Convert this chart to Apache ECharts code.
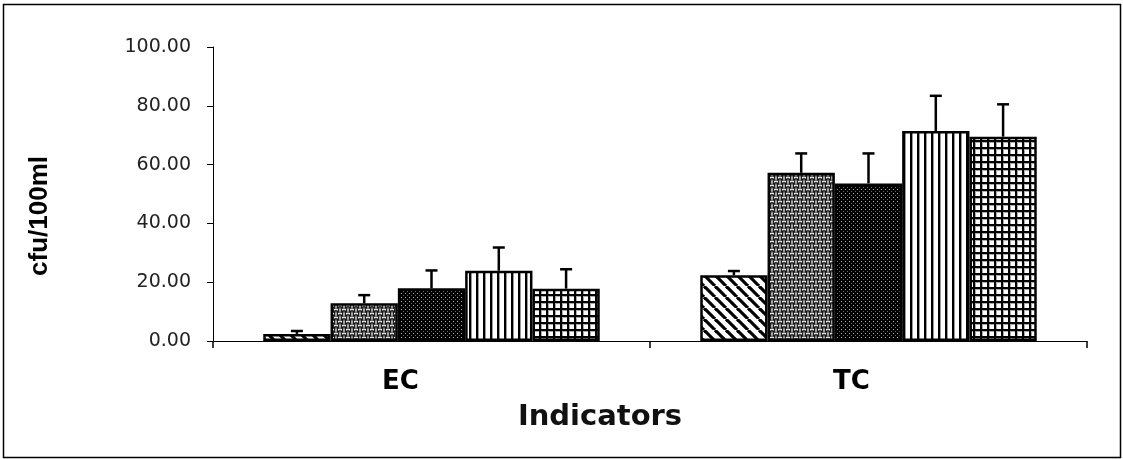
<!DOCTYPE html>
<html>
<head>
<meta charset="utf-8">
<script src="https://cdn.jsdelivr.net/npm/echarts@6/dist/echarts.min.js"></script>
<style>
html,body{margin:0;padding:0;background:#fff;}
#chart{width:1123px;height:459px;}
</style>
</head>
<body>
<div id="chart"></div>
<script>
// ---- data ----
var categories = ['EC', 'TC'];
var seriesNames = ['Group 1', 'Group 2', 'Group 3', 'Group 4', 'Group 5'];
var values1 = [2.4, 22.4];
var values2 = [12.8, 57.2];
var values3 = [17.9, 53.6];
var values4 = [23.9, 71.4];
var values5 = [17.8, 69.5];
var errors1 = [1.0, 1.4];
var errors2 = [2.8, 6.6];
var errors3 = [6.1, 10.2];
var errors4 = [7.9, 12.0];
var errors5 = [6.6, 11.0];
var yTicks = [0, 20, 40, 60, 80, 100];

var allValues = [values1, values2, values3, values4, values5];
var allErrors = [errors1, errors2, errors3, errors4, errors5];

// ---- patterns ----
function makeTile(w, h, draw) {
  var c = document.createElement('canvas');
  c.width = w; c.height = h;
  var ctx = c.getContext('2d');
  ctx.fillStyle = '#fff';
  ctx.fillRect(0, 0, w, h);
  draw(ctx, w, h);
  return c;
}
var pDiag = makeTile(11, 11, function (ctx, w, h) {
  ctx.strokeStyle = '#000'; ctx.lineWidth = 3.2;
  for (var k = -1; k <= 1; k++) {
    ctx.beginPath(); ctx.moveTo(k * w, 0); ctx.lineTo(k * w + w, h); ctx.stroke();
  }
});
var pBubble = makeTile(8, 8, function (ctx, w, h) {
  var pts = [[4, 2], [0, 6], [8, 6], [0, -2], [8, -2], [4, 10]];
  pts.forEach(function (p) {
    ctx.beginPath(); ctx.ellipse(p[0], p[1], 2.9, 2.0, 0, 0, Math.PI * 2);
    ctx.fillStyle = '#fff'; ctx.fill();
    ctx.lineWidth = 1.1; ctx.strokeStyle = '#000'; ctx.stroke();
    ctx.beginPath(); ctx.ellipse(p[0], p[1] + 0.6, 1.8, 0.9, 0, 0, Math.PI * 2);
    ctx.fillStyle = '#333'; ctx.fill();
  });
});
var pDots = makeTile(4, 4, function (ctx, w, h) {
  ctx.fillStyle = '#000'; ctx.fillRect(0, 0, w, h);
  ctx.fillStyle = '#bbb'; ctx.fillRect(1, 1, 1, 1);
  ctx.fillStyle = '#666'; ctx.fillRect(3, 3, 1, 1);
});
var pVert = makeTile(7, 4, function (ctx, w, h) {
  ctx.fillStyle = '#000'; ctx.fillRect(0, 0, 2, h);
  ctx.fillStyle = '#999'; ctx.fillRect(2, 0, 1, h);
});
var pGrid = makeTile(7, 7, function (ctx, w, h) {
  ctx.fillStyle = '#000'; ctx.fillRect(0, 0, 2, h); ctx.fillRect(0, 0, w, 2);
  ctx.fillStyle = '#aaa'; ctx.fillRect(2, 2, 1, h - 2); ctx.fillRect(2, 2, w - 2, 1);
});
var patterns = [pDiag, pBubble, pDots, pVert, pGrid];

var catGap = 0.23;
var nSeries = 5;

var series = [];
for (var i = 0; i < nSeries; i++) {
  series.push({
    name: seriesNames[i],
    type: 'bar',
    data: allValues[i],
    barGap: '0%',
    barCategoryGap: (catGap * 100) + '%',
    itemStyle: {
      color: { image: patterns[i], repeat: 'repeat' },
      borderColor: '#000',
      borderWidth: 2.5
    },
    z: 2
  });
}
// error bars (upper only)
series.push({
  type: 'custom',
  name: 'errors',
  z: 3,
  data: (function () {
    var d = [];
    for (var s = 0; s < nSeries; s++) {
      for (var c = 0; c < categories.length; c++) {
        d.push([c, allValues[s][c], allErrors[s][c], s]);
      }
    }
    return d;
  })(),
  renderItem: function (params, api) {
    var c = api.value(0), v = api.value(1), e = api.value(2), s = api.value(3);
    var band = api.size([1, 0])[0];
    var bw = band * (1 - catGap) / nSeries;
    var base = api.coord([c, v]);
    var top = api.coord([c, v + e]);
    var x = base[0] + (s - (nSeries - 1) / 2) * bw;
    var cap = 6;
    var st = { stroke: '#000', lineWidth: 2.5 };
    return {
      type: 'group',
      children: [
        { type: 'line', shape: { x1: x, y1: base[1], x2: x, y2: top[1] }, style: st },
        { type: 'line', shape: { x1: x - cap, y1: top[1], x2: x + cap, y2: top[1] }, style: st }
      ]
    };
  },
  encode: { x: 0, y: 1 },
  silent: true
});

var chart = echarts.init(document.getElementById('chart'), null, { renderer: 'canvas' });
chart.setOption({
  animation: false,
  backgroundColor: '#fff',
  grid: { left: 213, right: 36, top: 47, bottom: 118, containLabel: false },
  xAxis: {
    type: 'category',
    data: categories,
    name: 'Indicators',
    nameLocation: 'middle',
    nameGap: 62,
    nameTextStyle: {
      fontFamily: 'DejaVu Sans', fontWeight: 'bold', fontSize: 29, color: '#111',
      padding: [0, 100, 0, 0]
    },
    axisLine: { lineStyle: { color: '#000', width: 1 } },
    axisTick: { show: true, alignWithLabel: false, length: 7, lineStyle: { color: '#000', width: 1.5 } },
    axisLabel: {
      margin: 28,
      formatter: function (v) { return '{' + v + '|' + v + '}'; },
      rich: {
        EC: { fontFamily: 'DejaVu Sans', fontWeight: 'bold', fontSize: 26, color: '#000', padding: [0, 62, 0, 0] },
        TC: { fontFamily: 'DejaVu Sans', fontWeight: 'bold', fontSize: 26, color: '#000', padding: [0, 34, 0, 0] }
      }
    }
  },
  yAxis: {
    type: 'value',
    min: yTicks[0],
    max: yTicks[yTicks.length - 1],
    interval: yTicks[1] - yTicks[0],
    name: 'cfu/100ml',
    nameLocation: 'middle',
    nameGap: 160,
    nameRotate: 90,
    nameTextStyle: {
      fontFamily: 'Liberation Sans', fontWeight: 'bold', fontSize: 26, color: '#000',
      padding: [0, 44, 0, 0]
    },
    axisLine: { show: true, lineStyle: { color: '#000', width: 1 } },
    axisTick: { show: true, length: 6, lineStyle: { color: '#000', width: 1 } },
    splitLine: { show: false },
    axisLabel: {
      margin: 22,
      fontFamily: 'DejaVu Sans', fontSize: 19, color: '#222',
      formatter: function (v) { return v.toFixed(2); }
    }
  },
  graphic: [{
    type: 'rect',
    shape: { x: 3.5, y: 4.5, width: 1117, height: 453 },
    style: { fill: null, stroke: '#000', lineWidth: 1.5 },
    silent: true, z: 0
  }],
  series: series
});
</script>
</body>
</html>
